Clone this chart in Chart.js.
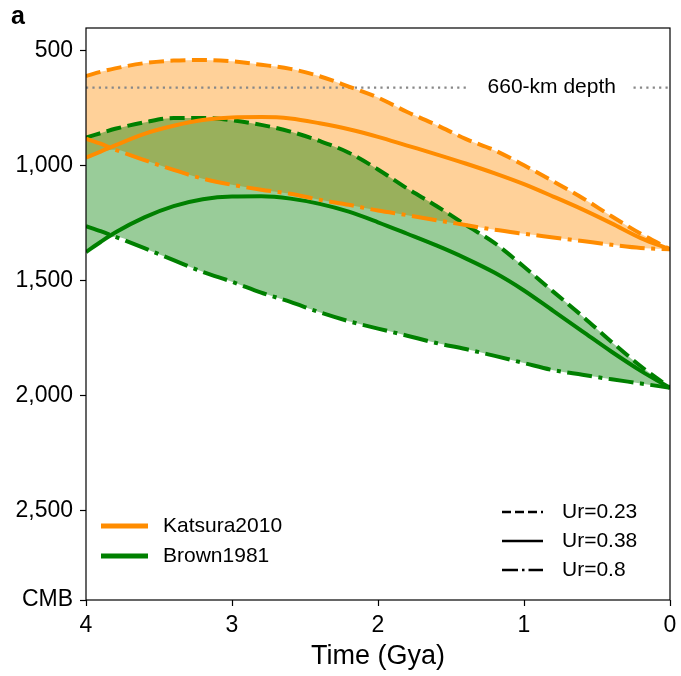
<!DOCTYPE html>
<html>
<head>
<meta charset="utf-8">
<script src="https://cdn.jsdelivr.net/npm/chart.js@4.4.1/dist/chart.umd.min.js"></script>
<style>
  html, body { margin: 0; padding: 0; background: #fff; }
  #wrap { width: 681px; height: 676px; position: relative; }
</style>
</head>
<body>
<div id="wrap"><canvas id="depthChart"></canvas></div>
<script>
// time before present (Gya)
const TIME = [4, 3.9, 3.8, 3.6, 3.4, 3.2, 3.0, 2.8, 2.6, 2.4, 2.2, 2.0, 1.8, 1.6, 1.4, 1.2, 1.0, 0.8, 0.6, 0.4, 0.2, 0];

// depth (km) - Katsura2010
const KAT_UR023 = [609, 591, 576, 553, 542, 539, 545, 560, 578, 610, 655, 703, 766, 822, 883, 933, 998, 1068, 1140, 1220, 1296, 1364];
const KAT_UR038 = [965, 938, 911, 861, 826, 801, 790, 788, 794, 815, 841, 874, 912, 950, 990, 1033, 1080, 1134, 1190, 1251, 1315, 1364];
const KAT_UR080 = [882, 904, 930, 975, 1018, 1056, 1083, 1104, 1122, 1148, 1170, 1195, 1215, 1237, 1258, 1279, 1296, 1312, 1328, 1344, 1358, 1364];

// depth (km) - Brown1981
const BRO_UR023 = [877, 858, 839, 811, 792, 792, 802, 822, 851, 892, 943, 1016, 1099, 1175, 1257, 1337, 1440, 1548, 1655, 1767, 1873, 1967];
const BRO_UR038 = [1376, 1332, 1291, 1225, 1176, 1146, 1134, 1133, 1143, 1166, 1200, 1246, 1296, 1347, 1403, 1466, 1543, 1632, 1721, 1810, 1893, 1967];
const BRO_UR080 = [1263, 1285, 1309, 1359, 1411, 1462, 1505, 1552, 1593, 1638, 1677, 1709, 1740, 1772, 1798, 1828, 1859, 1890, 1910, 1930, 1948, 1967];

const Y_TICKS = [500, 1000, 1500, 2000, 2500, 2891];
const CMB = 2891;
const DEPTH_660 = 660;
// dotted 660 line pieces (Gya), gap left for the label
const LINE_660_A = [4, 1.38];
const LINE_660_B = [0.25, 0];
const LABEL_660_T = 0.81;

const ORANGE = '#ff8c00';
const GREEN = '#008000';
const FONT = '"Liberation Sans", Arial, Helvetica, sans-serif';

const pts = arr => TIME.map((t, i) => ({x: t, y: arr[i]}));
const deepest = (a, b) => a.map((v, i) => Math.max(v, b[i]));
const seg = (ts, d) => ts.map(t => ({x: t, y: d}));

const DASH = [15, 6.5];
const DASHDOT = [25, 6.5, 4, 6.5];

function curve(data, color, dash, order) {
    return {
        data: pts(data),
        borderColor: color,
        borderWidth: 4,
        borderDash: dash,
        pointRadius: 0,
        fill: false,
        cubicInterpolationMode: 'monotone',
        order: order
    };
}

var ctx = document.getElementById('depthChart').getContext('2d');

const extras = {
    id: 'extras',
    afterDraw(chart) {
        const c = chart.ctx;
        const a = chart.chartArea;
        const x = chart.scales.x, y = chart.scales.y;
        c.save();
        //frame
        c.strokeStyle = '#000';
        c.lineWidth = 1.2;
        c.strokeRect(a.left, a.top, a.right - a.left, a.bottom - a.top);

        c.fillStyle = '#000';
        c.font = '21px ' + FONT;
        c.textAlign = 'center';
        c.textBaseline = 'middle';
        c.fillText('660-km depth', x.getPixelForValue(LABEL_660_T), y.getPixelForValue(DEPTH_660));

        c.font = 'bold 25px ' + FONT;
        c.textAlign = 'left';
        c.textBaseline = 'alphabetic';
        c.fillText('a', 11, 24);

        // model legend
        c.font = '21px ' + FONT;
        c.textBaseline = 'middle';
        [['Katsura2010', ORANGE, 526], ['Brown1981', GREEN, 556]].forEach(([txt, col, ly]) => {
            c.strokeStyle = col;
            c.lineWidth = 5;
            c.setLineDash([]);
            c.beginPath(); c.moveTo(101, ly); c.lineTo(148, ly); c.stroke();
            c.fillStyle = '#000';
            c.fillText(txt, 163, ly);
        });

        // Ur legend
        [['Ur=0.23', [9, 4], 512], ['Ur=0.38', [], 541], ['Ur=0.8', [16, 4, 2.5, 4], 570]].forEach(([txt, dash, ly]) => {
            c.strokeStyle = '#000';
            c.lineWidth = 2.5;
            c.setLineDash(dash);
            c.beginPath(); c.moveTo(502, ly); c.lineTo(543, ly); c.stroke();
            c.fillText(txt, 562, ly);
        });
        c.restore();
    }
};

var depthChart = new Chart(ctx, {
    type: 'line',
    data: {
        datasets: [
            {
                // Katsura envelope, filled up to Ur=0.23 curve
                data: pts(deepest(KAT_UR038, KAT_UR080)),
                borderWidth: 0,
                borderColor: 'rgba(0,0,0,0)',
                backgroundColor: 'rgba(255,140,0,0.4)',
                pointRadius: 0,
                fill: 2,
                cubicInterpolationMode: 'monotone',
                order: 20
            },
            {
                data: pts(deepest(BRO_UR038, BRO_UR080)),
                borderWidth: 0,
                borderColor: 'rgba(0,0,0,0)',
                backgroundColor: 'rgba(0,128,0,0.4)',
                pointRadius: 0,
                fill: 5,
                cubicInterpolationMode: 'monotone',
                order: 19
            },
            curve(KAT_UR023, ORANGE, DASH, 1),
            curve(KAT_UR038, ORANGE, [], 1),
            curve(KAT_UR080, ORANGE, DASHDOT, 1),
            curve(BRO_UR023, GREEN, DASH, 2),
            curve(BRO_UR038, GREEN, [], 2),
            curve(BRO_UR080, GREEN, DASHDOT, 2),
            {
                data: seg(LINE_660_A, DEPTH_660),
                borderColor: '#888888',
                borderWidth: 2.2,
                borderDash: [2.2, 4.2],
                pointRadius: 0,
                fill: false,
                order: 5
            },
            {
                data: seg(LINE_660_B, DEPTH_660),
                borderColor: '#888888',
                borderWidth: 2.2,
                borderDash: [2.2, 4.2],
                pointRadius: 0,
                fill: false,
                order: 5
            }
        ]
    },
    options: {
        responsive: true,
        maintainAspectRatio: false,
        animation: false,
        events: [],
        layout: {
            padding: {top: 28, right: 11, left: 0, bottom: 0}
        },
        plugins: {
            legend: {display: false},
            tooltip: {enabled: false},
            filler: {drawTime: 'beforeDatasetsDraw'}
        },
        scales: {
            x: {
                type: 'linear',
                reverse: true,
                min: 0,
                max: 4,
                afterFit: s => { s.height = 76; s.paddingLeft = 0; s.paddingRight = 0; },
                border: {display: false},
                grid: {
                    drawOnChartArea: false,
                    drawTicks: true,
                    tickLength: 6,
                    tickColor: '#000',
                    tickWidth: 1.2
                },
                ticks: {
                    stepSize: 1,
                    color: '#000',
                    padding: 6,
                    font: {family: FONT, size: 23},
                    callback: v => String(v)
                },
                title: {
                    display: true,
                    text: 'Time (Gya)',
                    color: '#000',
                    font: {family: FONT, size: 27},
                    padding: {top: 0, bottom: 3}
                }
            },
            y: {
                type: 'linear',
                reverse: true,
                min: 400,
                max: CMB,
                afterFit: s => { s.width = 86; },
                afterBuildTicks: s => { s.ticks = Y_TICKS.map(v => ({value: v})); },
                border: {display: false},
                grid: {
                    drawOnChartArea: false,
                    drawTicks: true,
                    tickLength: 6,
                    tickColor: '#000',
                    tickWidth: 1.2
                },
                ticks: {
                    color: '#000',
                    padding: 7,
                    font: {family: FONT, size: 23},
                    callback: v => v === CMB ? 'CMB' : v.toLocaleString('en-US')
                }
            }
        }
    },
    plugins: [extras]
});
</script>
</body>
</html>
